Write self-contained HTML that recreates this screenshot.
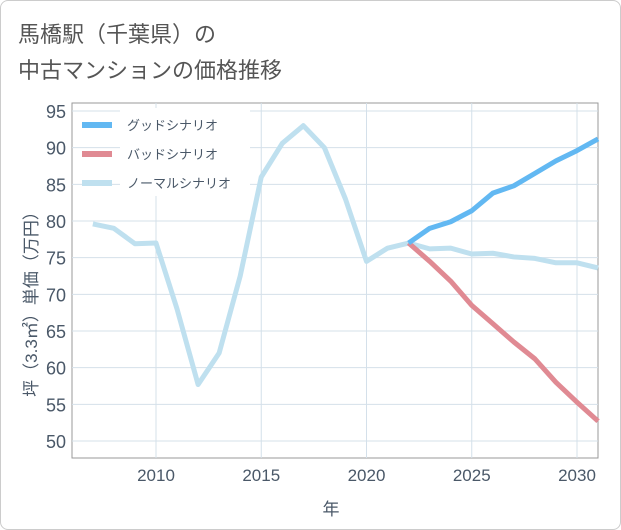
<!DOCTYPE html>
<html><head><meta charset="utf-8"><style>
body{margin:0;background:#fff;font-family:"Liberation Sans","Noto Sans CJK JP",sans-serif;}
#card{position:absolute;left:0;top:0;width:619px;height:528px;border:1px solid #ccc;border-radius:8px;background:#fff;}
</style></head><body>
<div id="card">
<svg width="621" height="530" style="position:absolute;left:-1px;top:-1px" id="svg">
<text x="18" y="42" font-size="22" fill="#555">馬橋駅（千葉県）の</text>
<text x="18" y="78" font-size="22" fill="#555">中古マンションの価格推移</text>
<text x="331" y="515" font-size="17" fill="#4a5868" text-anchor="middle">年</text>
<text transform="translate(37,300) rotate(-90)" font-size="17" fill="#4a5868" text-anchor="middle">坪（3.3㎡）単価（万円）</text>
</svg></div>
<script>
const years=[2007,2008,2009,2010,2011,2012,2013,2014,2015,2016,2017,2018,2019,2020,2021,2022,2023,2024,2025,2026,2027,2028,2029,2030,2031];
const normal=[79.6,79,76.9,77,68,57.7,62,72.5,86,90.6,93,90,83,74.5,76.3,77,76.2,76.3,75.5,75.6,75.1,74.9,74.3,74.3,73.6];
const goodYears=[2022,2023,2024,2025,2026,2027,2028,2029,2030,2031];
const good=[77,79,79.9,81.4,83.8,84.8,86.5,88.2,89.6,91.2];
const bad=[77,74.5,71.8,68.5,66,63.5,61.2,58,55.3,52.7];
const xTicks=[2010,2015,2020,2025,2030];
const yTicks=[50,55,60,65,70,75,80,85,90,95];
const legendLabels=["グッドシナリオ","バッドシナリオ","ノーマルシナリオ"];
const L=72,R=598,T=103,B=458;
const X=y=>156+(y-2010)*21.05;
const Y=v=>441-(v-50)*7.333;
const svg=document.getElementById('svg');const NS="http://www.w3.org/2000/svg";
function mk(t,a,p){const e=document.createElementNS(NS,t);for(const k in a)e.setAttribute(k,a[k]);(p||svg).appendChild(e);return e;}
const frame=mk('rect',{x:L,y:T,width:R-L,height:B-T,fill:'none',stroke:'#999','stroke-width':1});


xTicks.forEach(t=>{const g=mk('line',{x1:X(t),x2:X(t),y1:T,y2:B,stroke:'#d4e0ea'});


const l=mk('text',{x:X(t),y:B+23,'font-size':17,fill:'#4a5868','text-anchor':'middle'});l.textContent=t;

});
yTicks.forEach(t=>{const g=mk('line',{x1:L,x2:R,y1:Y(t),y2:Y(t),stroke:'#d4e0ea'});


const l=mk('text',{x:L-6,y:Y(t)+7,'font-size':18,fill:'#4a5868','text-anchor':'end'});l.textContent=t;

});
function line(xs,vs,c,n){const p=mk('polyline',{points:xs.map((x,i)=>X(x)+','+Y(vs[i])).join(' '),fill:'none',stroke:c,'stroke-width':5,'stroke-linejoin':'round'});

}
line(years,normal,'#bfe0ef','normal-scenario-line');
line(goodYears,bad,'#e08a93','bad-scenario-line');
line(goodYears,good,'#62b8f2','good-scenario-line');
const lb=mk('rect',{x:120,y:108,width:130,height:88,fill:'#fff'});


const cols=['#62b8f2','#e08a93','#bfe0ef'];
legendLabels.forEach((s,i)=>{const y=125+i*29;
const sw=mk('rect',{x:82,y:y-3,width:30,height:6,fill:cols[i]});


const t=mk('text',{x:127,y:y+5,'font-size':13,fill:'#4a5868'});t.textContent=s;

});
</script></body></html>
